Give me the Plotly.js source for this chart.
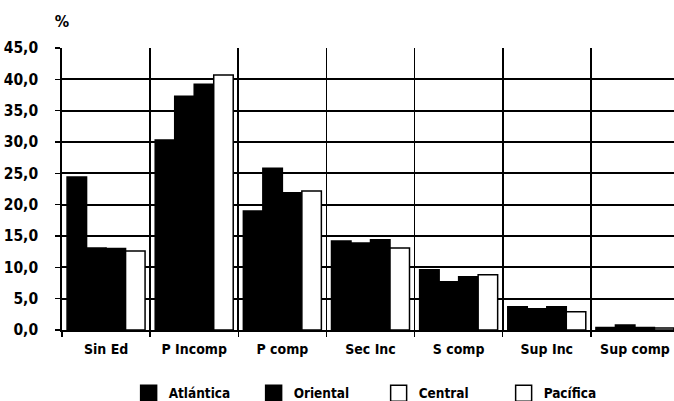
<!DOCTYPE html>
<html>
<head>
<meta charset="utf-8">
<script src="https://cdn.plot.ly/plotly-3.0.1.min.js"></script>
<style>
html,body{margin:0;padding:0;overflow:hidden;background:#fff;width:674px;height:401px;}
#chart{width:680px;height:401px;}
#chart text{font-stretch:condensed !important;}
</style>
</head>
<body>
<div id="chart"></div>
<script>
const categories = ["Sin Ed", "P Incomp", "P comp", "Sec Inc", "S comp", "Sup Inc", "Sup comp"];
const atlantica = [24.4, 30.3, 19.0, 14.2, 9.6, 3.7, 0.4];
const oriental  = [13.1, 37.3, 25.8, 13.9, 7.7, 3.4, 0.8];
const central   = [13.0, 39.2, 21.9, 14.4, 8.5, 3.7, 0.4];
const pacifica  = [12.6, 40.7, 22.2, 13.1, 8.8, 2.9, 0.3];
const seriesNames = ["Atlántica", "Oriental", "Central", "Pacífica"];
const legendLabels = ["Atlántica", "Oriental", "Central", "Pacífica"];

const FONT = '"DejaVu Sans", sans-serif';
const barFill = ["#000", "#000", "#000", "#fff"];
const legendFill = ["#000", "#000", "#fff", "#fff"];
const values = [atlantica, oriental, central, pacifica];

const traces = values.map((v, i) => ({
  type: "bar",
  name: seriesNames[i],
  x: categories,
  y: v,
  showlegend: false,
  marker: {color: barFill[i], line: {color: "#000", width: 1.5}},
  hoverinfo: "skip"
}));

legendLabels.forEach((n, i) => {
  traces.push({
    type: "scatter",
    mode: "markers",
    name: n,
    x: [null],
    y: [null],
    showlegend: true,
    marker: {symbol: "square", size: 16, color: legendFill[i], line: {color: "#000", width: 1.5}}
  });
});

const layout = {
  width: 680,
  height: 401,
  margin: {l: 62, r: 1, t: 48, b: 71, autoexpand: false},
  paper_bgcolor: "#fff",
  plot_bgcolor: "#fff",
  separators: ",.",
  barmode: "group",
  bargap: 0.115,
  bargroupgap: 0,
  font: {family: FONT, size: 14, color: "#000", weight: 700},
  xaxis: {
    type: "category",
    range: [-0.5, 6.5],
    tickson: "boundaries",
    tickangle: 0,
    showgrid: true,
    gridcolor: "#000",
    gridwidth: 1.8,
    showline: true,
    linecolor: "#000",
    linewidth: 1.8,
    ticks: "outside",
    ticklen: 5,
    tickcolor: "#000",
    tickwidth: 1.5,
    ticklabelstandoff: 5,
    tickfont: {family: FONT, size: 14, color: "#000", weight: 700},
    fixedrange: true
  },
  yaxis: {
    range: [0, 45],
    dtick: 5,
    tick0: 0,
    tickformat: ".1f",
    showgrid: true,
    gridcolor: "#000",
    gridwidth: 1.8,
    zeroline: false,
    showline: true,
    linecolor: "#000",
    linewidth: 1.8,
    ticks: "outside",
    ticklen: 5,
    tickcolor: "#000",
    tickwidth: 1.5,
    ticklabelstandoff: 14,
    tickfont: {family: FONT, size: 15.5, color: "#000", weight: 700},
    fixedrange: true
  },
  legend: {
    orientation: "h",
    x: 0.108,
    xanchor: "left",
    y: -0.225,
    yanchor: "middle",
    itemsizing: "trace",
    font: {family: FONT, size: 13.5, color: "#000", weight: 700},
    entrywidth: 80,
    bgcolor: "rgba(0,0,0,0)"
  },
  annotations: [{
    text: "%",
    xref: "paper", yref: "paper",
    x: 0.0, y: 1.095,
    xanchor: "center", yanchor: "middle",
    showarrow: false,
    font: {family: FONT, size: 16, color: "#000", weight: 700}
  }]
};

Plotly.newPlot("chart", traces, layout, {displayModeBar: false, staticPlot: true});
</script>
</body>
</html>
